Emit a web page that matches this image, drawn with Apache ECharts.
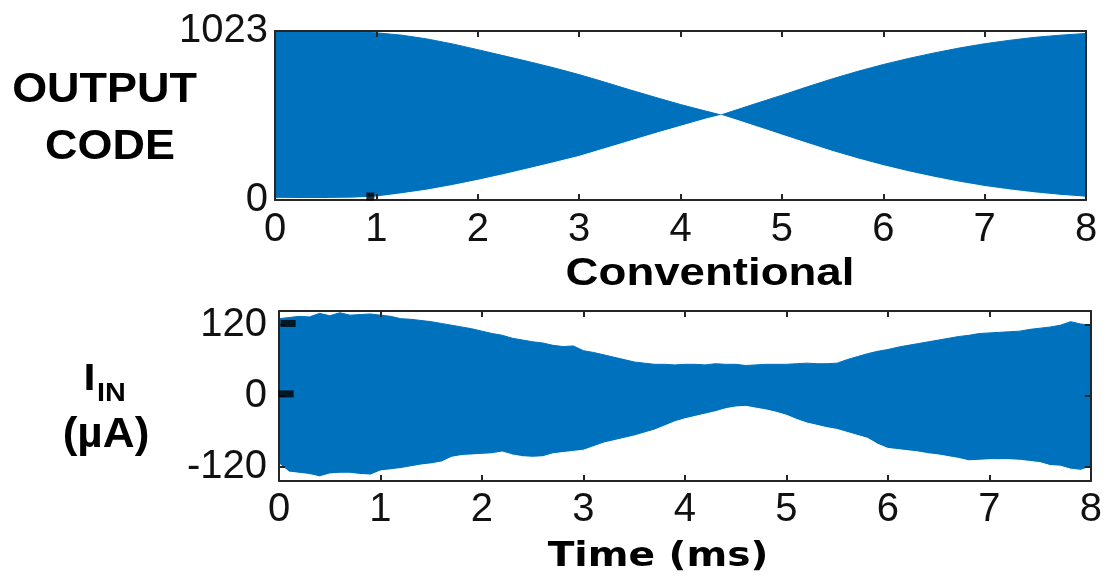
<!DOCTYPE html>
<html>
<head>
<meta charset="utf-8">
<script src="https://cdn.jsdelivr.net/npm/echarts@6/dist/echarts.min.js"></script>
<style>
html,body{margin:0;padding:0;background:#fff;}
#chart{width:1105px;height:582px;}
</style>
</head>
<body>
<div id="chart"></div>
<script>
// ---------- data ----------
const xTicks = [0,1,2,3,4,5,6,7,8];
const topYTicks = [0, 1023];
const botYTicks = [-120, 0, 120];

// top panel (OUTPUT CODE) envelope of the dense oscillation
const tTop = [0,0.25,0.5,0.75,1,1.25,1.5,1.75,2,2.25,2.5,2.75,3,3.25,3.5,3.75,4,4.25,4.4,4.5,4.75,5,5.25,5.5,5.75,6,6.25,6.5,6.75,7,7.25,7.5,7.75,8];
const topUpper = [1019,1020,1020,1018,1012,998,975,945,910,874,838,800,759,714,667,622,578,538,515,535,585,634,685,734,779,820,857,890,920,946,967,985,998,1008];
const topLower = [10,9,9,11,18,38,60,88,119,153,189,226,264,310,356,402,446,490,513,494,444,393,343,294,249,208,171,138,108,82,61,43,28,17];

// bottom panel (I_IN, µA) envelope
const tBot = [0,0.1,0.2,0.3,0.4,0.5,0.6,0.7,0.8,0.9,1,1.1,1.2,1.3,1.4,1.5,1.6,1.7,1.8,1.9,2,2.1,2.2,2.3,2.4,2.5,2.6,2.7,2.8,2.9,3,3.1,3.2,3.3,3.4,3.5,3.6,3.7,3.8,3.9,4,4.1,4.2,4.3,4.4,4.5,4.6,4.7,4.8,4.9,5,5.1,5.2,5.3,5.4,5.5,5.6,5.7,5.8,5.9,6,6.1,6.2,6.3,6.4,6.5,6.6,6.7,6.8,6.9,7,7.1,7.2,7.3,7.4,7.5,7.6,7.7,7.8,7.9,8];
const botUpper = [130,132,134,133,139,135,140,136,137,138,136,134,130,129,127,125,122,119,116,113,109,105,102,97,94,91,89,85,83,84,76,73,69,65,61,57,55,53,53,52,53,53,52,54,53,53,51,52,53,53,53,54,55,54,54,55,61,66,71,75,78,82,85,88,91,94,97,100,102,105,106,107,108,109,112,114,116,119,125,121,119];
const botLower = [-115,-129,-131,-133,-137,-132,-131,-131,-133,-134,-127,-125,-123,-120,-117,-115,-112,-104,-101,-100,-99,-98,-95,-100,-103,-104,-103,-98,-96,-94,-92,-86,-80,-76,-72,-68,-63,-58,-51,-44,-39,-35,-31,-27,-22,-19,-18,-21,-24,-28,-33,-40,-46,-50,-54,-57,-62,-67,-72,-82,-89,-91,-93,-95,-98,-100,-103,-106,-110,-109,-108,-108,-108,-109,-111,-113,-118,-119,-124,-126,-120];

// small black markers visible in the figure
const markTop = [[0.94, 21]];
const markBot = [[0.09, 122], [0.07, 3]];

// ---------- chart ----------
const BLUE = '#0072BD';
const AX = '#262626';
const tickFont = {fontFamily:'Liberation Sans', fontSize:40, color:'#111'};
const plain = v => String(v);

function xAx(grid, pos, labels, margin){
  return {
    type:'value', gridIndex:grid, position:pos, min:0, max:8, interval:1, z:5,
    axisLine:{show:true, onZero:false, lineStyle:{color:AX, width:2}},
    axisTick:{show:true, inside:true, length:6, lineStyle:{color:AX, width:2}},
    axisLabel: labels ? Object.assign({show:true, margin:margin, showMinLabel:true, showMaxLabel:true, formatter:plain}, tickFont) : {show:false},
    splitLine:{show:false}
  };
}
function yAx(grid, pos, min, max, ticks, labels, margin, pad){
  return {
    type:'value', gridIndex:grid, position:pos, min:min, max:max, z:5,
    axisLine:{show:true, onZero:false, lineStyle:{color:AX, width:2}},
    axisTick:{show:true, inside:true, length:6, customValues:ticks, lineStyle:{color:AX, width:2}},
    axisLabel: labels ? Object.assign({show:true, margin:margin, customValues:ticks, padding:pad, formatter:plain}, tickFont) : {show:false},
    splitLine:{show:false}
  };
}
function envLine(xi, yi, ts, vals, color){
  return {type:'line', xAxisIndex:xi, yAxisIndex:yi, showSymbol:false, silent:true, z:2,
    lineStyle:{color:color, width:1}, areaStyle:{color:color, opacity:1, origin:'start'},
    data: ts.map((t,i)=>[t, vals[i]])};
}

const chart = echarts.init(document.getElementById('chart'), null, {renderer:'canvas'});
const option = {
  animation:false,
  backgroundColor:'#fff',
  grid:[
    {left:275, top:31, width:811, height:169},
    {left:279, top:311, width:814, height:170}
  ],
  xAxis:[
    xAx(0,'bottom',true,10),
    xAx(0,'top',false),
    xAx(1,'bottom',true,9),
    xAx(1,'top',false)
  ],
  yAxis:[
    yAx(0,'left',0,1023,topYTicks,true,7,[0,0,8,0]),
    yAx(0,'right',0,1023,topYTicks,false),
    yAx(1,'left',-144,143,botYTicks,true,12,[0,0,4,0]),
    yAx(1,'right',-144,143,botYTicks,false)
  ],
  series:[
    // fill up to the upper envelope, then clear below the lower envelope
    envLine(0,0,tTop,topUpper,BLUE),
    envLine(0,0,tTop,topLower,'#ffffff'),
    envLine(2,2,tBot,botUpper,BLUE),
    envLine(2,2,tBot,botLower,'#ffffff'),
    {type:'scatter', xAxisIndex:0, yAxisIndex:0, symbol:'rect', symbolSize:[8,8], z:6, silent:true,
     itemStyle:{color:'#000'}, data:markTop},
    {type:'scatter', xAxisIndex:2, yAxisIndex:2, symbol:'rect', symbolSize:[15,7], z:6, silent:true,
     itemStyle:{color:'#000'}, data:markBot}
  ],
  graphic:[
    {type:'text', x:104.5, y:90, scaleX:1.07, style:{text:'OUTPUT', font:'bold 42px "Liberation Sans"', fill:'#000', textAlign:'center', textVerticalAlign:'middle'}},
    {type:'text', x:110, y:147, scaleX:1.07, style:{text:'CODE', font:'bold 42px "Liberation Sans"', fill:'#000', textAlign:'center', textVerticalAlign:'middle'}},
    {type:'text', x:710, y:275, scaleX:1.2, style:{text:'Conventional', font:'bold 38px "Liberation Sans"', fill:'#000', textAlign:'center', textVerticalAlign:'middle'}},
    {type:'text', x:89.5, y:380, scaleX:1.2, style:{text:'I', font:'bold 36px "Liberation Sans"', fill:'#000', textAlign:'center', textVerticalAlign:'middle'}},
    {type:'text', x:97, y:394.5, scaleX:1.15, style:{text:'IN', font:'bold 25px "Liberation Sans"', fill:'#000', textAlign:'left', textVerticalAlign:'middle'}},
    {type:'text', x:106, y:435, scaleX:1.05, style:{text:'(µA)', font:'bold 42px "Liberation Sans"', fill:'#000', textAlign:'center', textVerticalAlign:'middle'}},
    {type:'text', x:658, y:557.5, scaleX:1.15, style:{text:'Time (ms)', font:'bold 34px "DejaVu Sans"', fill:'#000', textAlign:'center', textVerticalAlign:'middle'}}
  ]
};
chart.setOption(option);
</script>
</body>
</html>
